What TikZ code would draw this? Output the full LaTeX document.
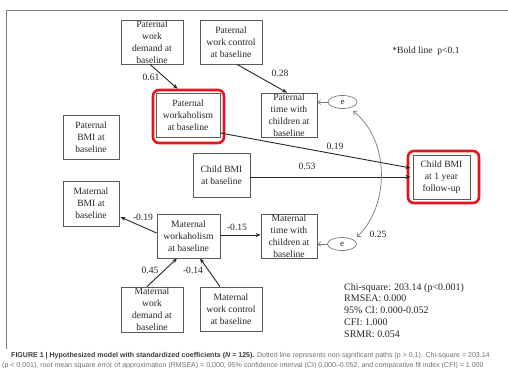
\documentclass[tikz,border=0pt]{standalone}
\usepackage{fontspec}
\setmainfont{Liberation Serif}
\newfontfamily\capfont{Liberation Sans}
\usetikzlibrary{calc,arrows.meta,shapes.geometric}
\definecolor{ink}{HTML}{262626}
\definecolor{boxgray}{HTML}{5A5A5A}
\definecolor{errgray}{HTML}{7A7A7A}
\definecolor{framegray}{HTML}{7C7C7C}
\definecolor{hlred}{HTML}{E8141B}
\definecolor{capdark}{HTML}{3A3A3A}
\definecolor{caplight}{HTML}{707070}
% a rectangle of fixed size with its (possibly overflowing) text centred on it
\newcommand\modelbox[5]{%
  \node[box, minimum width=#3, minimum height=#4] (#1) at (#2) {};
  \node[txt] at (#1) {#5};}
\begin{document}
\begin{tikzpicture}[x=1pt,y=-1pt,
  box/.style={draw=boxgray, line width=0.8pt, inner sep=0pt},
  txt/.style={align=center, font=\fontsize{9.6}{12}\selectfont, text=ink, inner sep=0pt},
  hl/.style={draw=hlred, line width=2.6pt, rounded corners=6pt, inner sep=0pt},
  effect/.style={draw=ink, line width=0.9pt, -{Stealth[length=5pt,width=4pt]}},
  err/.style={draw=errgray, line width=0.6pt, -{Straight Barb[length=3pt,width=5pt]}},
  corr/.style={draw=errgray, line width=0.7pt, {Straight Barb[length=3pt,width=5pt]}-{Straight Barb[length=3pt,width=5pt]}},
  errnode/.style={draw=errgray, line width=0.7pt, ellipse, minimum width=29, minimum height=13, inner sep=0pt, font=\fontsize{9}{10}\selectfont, text=ink},
  coef/.style={font=\fontsize{9.6}{11}\selectfont, text=ink, inner sep=0pt},
  captext/.style={anchor=base west, inner sep=0pt, font=\capfont\fontsize{7.05}{8}\selectfont, text=caplight}
]
\useasboundingbox (0,0) rectangle (508,367);

% outer frame (top and left edges)
\draw[framegray, line width=0.9pt] (508,10) -- (6,10) -- (6,349);

% highlight frames
\node[hl, minimum width=71, minimum height=53] (pwkr) at (188.5,116.5) {};
\node[hl, minimum width=71, minimum height=52] (cbmir) at (443.5,177) {};

% paternal block
\modelbox{pwd}{152,42}{62}{44}{Paternal\\work\\demand at\\baseline}
\modelbox{pwc}{231,42}{62}{44}{Paternal\\work control\\at baseline}
\modelbox{pwk}{188,115}{64}{44}{Paternal\\workaholism\\at baseline}
\modelbox{pbmi}{91,137}{56}{44}{Paternal\\BMI at\\baseline}
\modelbox{ptime}{289,115}{56}{44}{Paternal\\time with\\children at\\baseline}

% child
\modelbox{cbmi}{221.5,175}{57}{44}{Child BMI\\at baseline}
\modelbox{cbmi1}{441.5,177}{57}{44}{Child BMI\\at 1 year\\follow-up}

% maternal block
\modelbox{mbmi}{91,203.5}{56}{45}{Maternal\\BMI at\\baseline}
\modelbox{mwk}{188.5,236}{63}{44}{Maternal\\workaholism\\at baseline}
\modelbox{mtime}{289,236}{56}{44}{Maternal\\time with\\children at\\baseline}
\modelbox{mwd}{152,309.5}{62}{45}{Maternal\\work\\demand at\\baseline}
\modelbox{mwc}{231,309}{62}{44}{Maternal\\work control\\at baseline}

% error terms
\node[errnode] (e1) at (342.5,102) {e};
\node[errnode] (e2) at (342,244) {e};

% paths
\draw[effect] ([xshift=-2]pwd.south) -- ([xshift=-11]pwkr.north);
\draw[effect] ([xshift=6]pwc.south) -- ([xshift=-2]ptime.north);
\draw[effect] ($(pwk.east)+(0,18)$) -- ($(cbmi1.west)+(-2,-9)$);
\draw[effect] ($(cbmi.east)+(0,2)$) -- ($(cbmi1.west)+(-2,0)$);
\draw[effect] ($(mwk.west)+(0,-3)$) -- ($(mbmi.east)+(1,13.5)$);
\draw[effect] ($(mwk.east)+(0,-1)$) -- ($(mtime.west)+(0,-1)$);
\draw[effect] ([xshift=-5]mwd.north) -- ([xshift=-11.5]mwk.south);
\draw[effect] ([xshift=-11]mwc.north) -- ([xshift=11.5]mwk.south);

% residuals
\draw[err] (e1.west) -- (ptime.east |- e1.west);
\draw[err] (e2.west) -- (mtime.east |- e2.west);
\draw[corr] ($(e1)+(10.5,9)$) .. controls (390,140) and (390,205) .. ($(e2)+(15,-7)$);

% coefficients
\node[coef] at (151,77) {0.61};
\node[coef] at (280,73) {0.28};
\node[coef] at (335,146) {0.19};
\node[coef] at (307,166) {0.53};
\node[coef] at (143,217) {-0.19};
\node[coef] at (237,227) {-0.15};
\node[coef] at (150,270) {0.45};
\node[coef] at (193,270) {-0.14};
\node[coef] at (378,234) {0.25};

% notes
\node[coef, anchor=center] (note) at (426,51) {*Bold line\ \ p<0.1};
\node[anchor=north west, align=left, inner sep=0pt, text=ink,
      font=\fontsize{10}{11.8}\selectfont] (fit) at (344,283)
  {Chi-square: 203.14 (p<0.001)\\RMSEA: 0.000\\95\% CI: 0.000-0.052\\CFI: 1.000\\SRMR: 0.054};

% caption
\node[captext] (cap1) at (11,357)
  {\textcolor{capdark}{\textbf{FIGURE 1 | Hypothesized model with standardized coefficients (\textit{N} = 125).}} Dotted line represents non-significant paths (p > 0.1). Chi-square = 203.14};
\node[captext] (cap2) at (2,367)
  {(p < 0.001), root mean square error of approximation (RMSEA) = 0.000, 95\% confidence interval (CI) 0.000–0.052, and comparative fit index (CFI) = 1.000};
\end{tikzpicture}
\end{document}
